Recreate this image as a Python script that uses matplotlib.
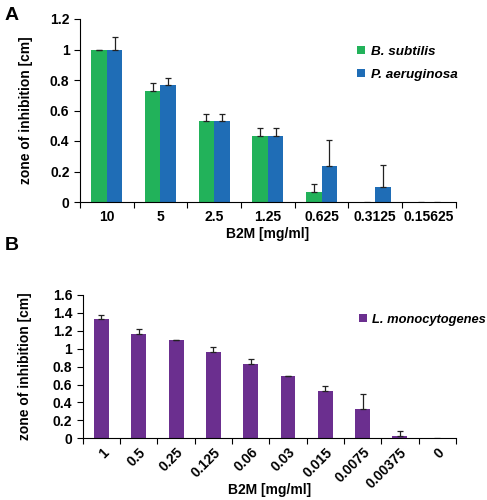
import matplotlib

matplotlib.use("Agg")
import matplotlib.pyplot as plt
import numpy as np

# panel A data
conc_a = ["10", "5", "2.5", "1.25", "0.625", "0.3125", "0.15625"]
bsub = [1.0, 0.73, 0.53, 0.435, 0.068, 0.0, 0.0]
bsub_err = [0.0, 0.05, 0.05, 0.048, 0.048, np.nan, np.nan]
paer = [1.0, 0.77, 0.53, 0.435, 0.236, 0.10, 0.0]
paer_err = [0.08, 0.045, 0.05, 0.048, 0.17, 0.145, np.nan]

# panel B data
conc_b = ["1", "0.5", "0.25", "0.125", "0.06", "0.03", "0.015", "0.0075", "0.00375", "0"]
lmono = [1.33, 1.165, 1.097, 0.967, 0.83, 0.695, 0.531, 0.33, 0.03, 0.0]
lmono_err = [0.05, 0.05, 0.005, 0.048, 0.05, 0.005, 0.049, 0.17, 0.05, np.nan]

GREEN, BLUE, PURPLE = "#22b25a", "#1f6db6", "#6b2f8f"
plt.rcParams["font.family"] = "Liberation Sans"
plt.rcParams["font.weight"] = "bold"
plt.rcParams["axes.labelweight"] = "bold"

fig = plt.figure(figsize=(4.87, 5.0), dpi=100)


def style(ax, n):
    ax.spines["top"].set_visible(False)
    ax.spines["right"].set_visible(False)
    ax.set_xlim(-0.5, n - 0.5)
    ax.set_xticks(np.arange(n + 1) - 0.5)
    ax.set_xticklabels([])
    ax.tick_params(axis="x", which="major", length=4, direction="out")
    ax.tick_params(axis="x", which="minor", length=0)
    ax.tick_params(axis="y", length=4, direction="out", labelsize=10)


ekw = dict(ecolor="#222222", elinewidth=0.9, capsize=2.5, capthick=0.9)

# ---------------------------------------------------------------- panel A
ax = fig.add_axes([0.164, 0.596, 0.772, 0.366])
x = np.arange(len(conc_a))
w = 0.29
ax.bar(x - w / 2, bsub, w, color=GREEN, label="B. subtilis",
       yerr=[np.zeros(len(x)), bsub_err], error_kw=ekw)
ax.bar(x + w / 2, paer, w, color=BLUE, label="P. aeruginosa",
       yerr=[np.zeros(len(x)), paer_err], error_kw=ekw)
style(ax, len(conc_a))
ax.set_ylim(0, 1.2)
ax.set_yticks([0, 0.2, 0.4, 0.6, 0.8, 1.0, 1.2])
ax.set_yticklabels(["0", "0.2", "0.4", "0.6", "0.8", "1", "1.2"])
ax.set_xticks(x, minor=True)
ax.set_xticklabels(conc_a, minor=True, fontsize=10)
ax.tick_params(axis="x", which="minor", pad=6)
ax.set_xlabel("B2M [mg/ml]", fontsize=10)
ax.xaxis.set_label_coords(0.5, -0.135)
ax.set_ylabel("zone of inhibition [cm]", fontsize=10)
ax.yaxis.set_label_coords(-0.125, 0.5)
ax.legend(loc="upper left", bbox_to_anchor=(0.705, 0.92), frameon=False,
          handlelength=0.6, handleheight=0.6, handletextpad=0.4,
          labelspacing=0.8, prop=dict(size=9.7, style="italic", weight="bold"))
fig.text(0.01, 0.985, "A", fontsize=14, fontweight="bold", va="top")

# ---------------------------------------------------------------- panel B
ax = fig.add_axes([0.170, 0.1234, 0.766, 0.2866])
x = np.arange(len(conc_b))
ax.bar(x, lmono, 0.4, color=PURPLE, label="L. monocytogenes",
       yerr=[np.zeros(len(x)), lmono_err], error_kw=ekw)
style(ax, len(conc_b))
ax.set_ylim(0, 1.6)
ax.set_yticks([0, 0.2, 0.4, 0.6, 0.8, 1.0, 1.2, 1.4, 1.6])
ax.set_yticklabels(["0", "0.2", "0.4", "0.6", "0.8", "1", "1.2", "1.4", "1.6"])
ax.set_xticks(x, minor=True)
ax.set_xticklabels(conc_b, minor=True, fontsize=10, rotation=45,
                   ha="right", rotation_mode="anchor")
ax.tick_params(axis="x", which="minor", pad=5)
ax.set_xlabel("B2M [mg/ml]", fontsize=10)
ax.xaxis.set_label_coords(0.5, -0.31)
ax.set_ylabel("zone of inhibition [cm]", fontsize=10)
ax.yaxis.set_label_coords(-0.135, 0.5)
ax.legend(loc="upper left", bbox_to_anchor=(0.71, 0.95), frameon=False,
          handlelength=0.6, handleheight=0.6, handletextpad=0.4,
          prop=dict(size=9.3, style="italic", weight="bold"))
fig.text(0.01, 0.527, "B", fontsize=14, fontweight="bold", va="top")

fig.savefig("out.png", dpi=100)
